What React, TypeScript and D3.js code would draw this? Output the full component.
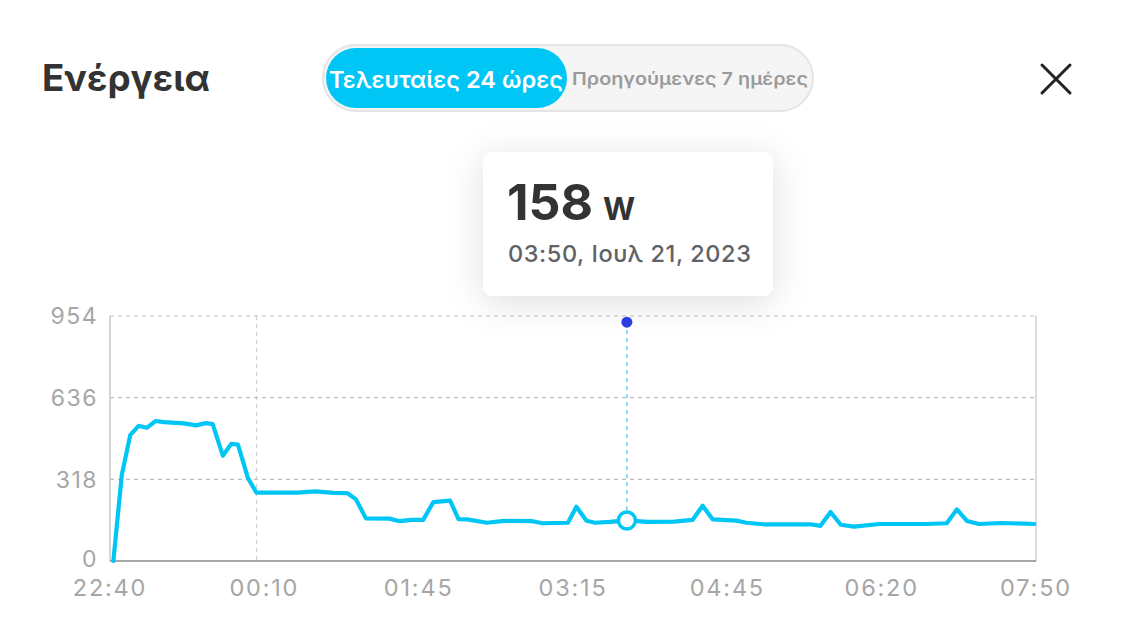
import React from 'react';
import * as d3 from 'd3';

// ---- data ----
const times: string[] = [
  '22:45', '22:50', '22:55', '23:00', '23:05', '23:10', '23:15', '23:27', '23:34', '23:40',
  '23:44', '23:50', '23:55', '23:59', '00:05', '00:10', '00:20', '00:34', '00:45', '00:56',
  '01:04', '01:09', '01:15', '01:29', '01:35', '01:42', '01:49', '01:55', '02:05', '02:10',
  '02:15', '02:27', '02:37', '02:54', '03:00', '03:15', '03:20', '03:26', '03:31', '03:40',
  '03:50', '04:02', '04:18', '04:29', '04:35', '04:41', '04:55', '05:01', '05:11', '05:25',
  '05:39', '05:45', '05:51', '05:57', '06:05', '06:20', '06:34', '06:48', '07:00', '07:06',
  '07:12', '07:19', '07:32', '07:52',
];
const watts: number[] = [
  0, 335, 490, 526, 519, 545, 541, 536, 528, 537,
  533, 410, 456, 453, 322, 266, 266, 266, 271, 265,
  264, 241, 166, 165, 155, 160, 160, 229, 235, 163,
  162, 149, 156, 155, 147, 149, 211, 157, 149, 152,
  158, 152, 153, 160, 215, 162, 157, 149, 143, 143,
  143, 137, 191, 141, 134, 144, 144, 144, 147, 201,
  156, 144, 148, 144,
];
const yTicks: number[] = [0, 318, 636, 954];
const xTickLabels: string[] = ['22:40', '00:10', '01:45', '03:15', '04:45', '06:20', '07:50'];
const domainTimes: string[] = ['22:43', '07:53'];
const markerTime = '00:10';
const hoverTime = '03:50';
const hoverValue = 158;
const hoverUnit = 'W';
const hoverDateLabel = '03:50, Ιουλ 21, 2023';
const title = 'Ενέργεια';
const tabLabels: string[] = ['Τελευταίες 24 ώρες', 'Προηγούμενες 7 ημέρες'];

const toDate = (hm: string) => {
  const [h, m] = hm.split(':').map(Number);
  return new Date(2023, 6, h >= 12 ? 20 : 21, h, m);
};

const FONT = 'Inter, Roboto, "Noto Sans", sans-serif';
const CYAN = '#00c6f6';

export default function App() {
  const left = 110, right = 1036, top = 316, bottom = 561;
  const x = d3.scaleTime().domain(domainTimes.map(toDate)).range([left, right]);
  const y = d3.scaleLinear().domain([0, 954]).range([bottom, top]);
  const xt = d3.scalePoint<string>().domain(xTickLabels).range([left, right]);
  const pts = times.map((t, i) => ({ t: toDate(t), v: watts[i] }));
  const line = d3.line<{ t: Date; v: number }>().x(d => x(d.t)).y(d => y(d.v));
  const hx = x(toDate(hoverTime));
  const hy = y(hoverValue);
  const mx = x(toDate(markerTime));

  return (
    <svg width={1136} height={640} style={{ position: 'absolute', left: 0, top: 0, background: '#fff' }} fontFamily={FONT}>
      <defs>
        <filter id="sh" x="-40%" y="-60%" width="180%" height="220%">
          <feDropShadow dx="0" dy="6" stdDeviation="18" floodColor="#000" floodOpacity="0.13" />
        </filter>
      </defs>
      <rect width={1136} height={640} fill="#fff" />

      {/* header */}
      <text x={42} y={91} fontSize={37} fontWeight={700} fill="#333" textLength={168} lengthAdjust="spacingAndGlyphs">{title}</text>
      <rect x={323} y={45} width={490} height={66} rx={33} fill="#f5f5f5" stroke="#e4e4e4" strokeWidth={2} />
      <rect x={326} y={48} width={241} height={60} rx={30} fill={CYAN} />
      <text x={446} y={88} textAnchor="middle" fontSize={23} fontWeight={600} fill="#fff" textLength={234} lengthAdjust="spacingAndGlyphs">{tabLabels[0]}</text>
      <text x={690} y={85} textAnchor="middle" fontSize={17.5} fontWeight={600} fill="#9a9a9a" textLength={236} lengthAdjust="spacingAndGlyphs">{tabLabels[1]}</text>
      <g stroke="#222" strokeWidth={3} strokeLinecap="round">
        <line x1={1042} y1={65} x2={1070} y2={93} />
        <line x1={1070} y1={65} x2={1042} y2={93} />
      </g>

      {/* grid */}
      {yTicks.filter(v => v > 0).map(v => (
        <line key={v} x1={left} x2={right} y1={y(v)} y2={y(v)} stroke="#bdbdbd" strokeWidth={1.2} strokeDasharray="4 4" />
      ))}
      <line x1={mx} x2={mx} y1={top} y2={bottom} stroke="#cfcfcf" strokeWidth={1.2} strokeDasharray="4 4" />
      <line x1={left} x2={left} y1={top} y2={bottom} stroke="#c8c8c8" strokeWidth={1.5} />
      <line x1={right} x2={right} y1={top} y2={bottom} stroke="#cfcfcf" strokeWidth={1.5} />
      <line x1={left} x2={right} y1={bottom} y2={bottom} stroke="#8a8a8a" strokeWidth={1.5} />

      {/* axis labels */}
      {yTicks.map(v => (
        <text key={v} x={98} y={y(v) - (v === 0 ? 2 : 0)} dy="0.36em" textAnchor="end" fontSize={23} letterSpacing={1.5} fill="#a6a6a6">{v}</text>
      ))}
      {xTickLabels.map(l => (
        <text key={l} x={xt(l)} y={596} textAnchor="middle" fontSize={23.5} letterSpacing={1.8} fill="#a6a6a6">{l}</text>
      ))}

      {/* series */}
      <path d={line(pts) || ''} fill="none" stroke={CYAN} strokeWidth={4.2} strokeLinejoin="round" strokeLinecap="round" />

      {/* hover */}
      <line x1={hx} x2={hx} y1={y(930)} y2={hy} stroke="#5cc6e6" strokeWidth={1.3} strokeDasharray="4 4" />
      <circle cx={hx} cy={y(930)} r={5.5} fill="#2b3fe6" />
      <circle cx={hx} cy={hy} r={8.5} fill="#fff" stroke={CYAN} strokeWidth={3.5} />

      {/* tooltip */}
      <rect x={483} y={152} width={290} height={144} rx={10} fill="#fff" filter="url(#sh)" />
      <text x={507} y={220} fill="#333" fontWeight={700}>
        <tspan fontSize={50}>{hoverValue}</tspan>
        <tspan fontSize={31} dx={10}>{hoverUnit}</tspan>
      </text>
      <text x={508} y={262} fontSize={23.5} fontWeight={500} letterSpacing={0.6} fill="#5f6368">{hoverDateLabel}</text>
    </svg>
  );
}
